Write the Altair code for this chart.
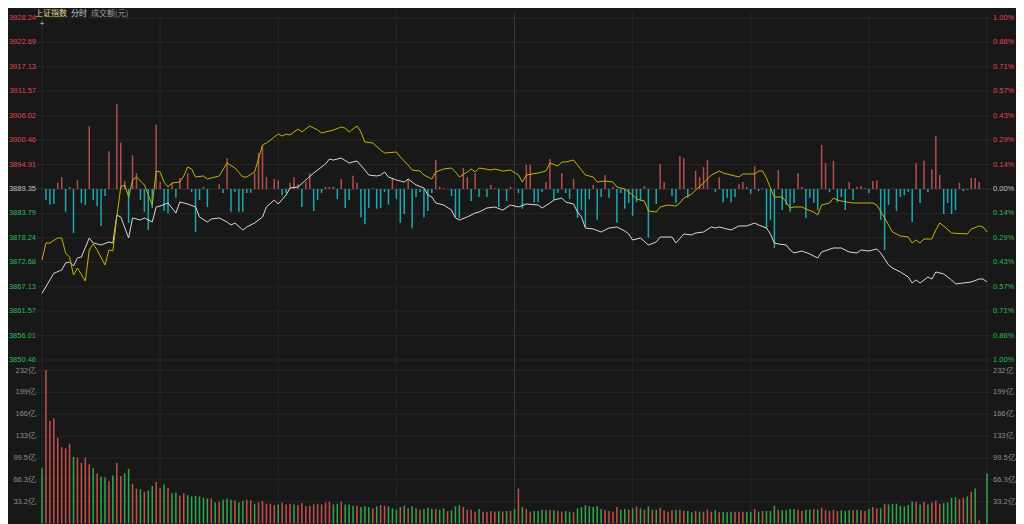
import altair as alt
import pandas as pd

BASE_PRICE = 3889.35
PRICE_TICKS = [3850.46, 3856.01, 3861.57, 3867.13, 3872.68, 3878.24, 3883.79, 3889.35,
               3894.91, 3900.46, 3906.02, 3911.57, 3917.13, 3922.69, 3928.24]
VOLUME_TICKS = [33.2, 66.3, 99.5, 132.6, 165.8, 198.9, 232.1]
TIME_GRID = [0, 30, 60, 90, 120, 150, 180, 210, 240]
HEADER = ["上证指数", "分时", "成交额(元)"]

# (minute, index value)
PRICE_LINE = [
    (0, 3865.63), (2, 3868.66), (3, 3870.18), (5, 3870.93), (6, 3872.52), (7, 3872.75), (8, 3871.84),
    (9, 3873.66), (10, 3873.89), (12, 3878.21), (13, 3877.07), (14, 3876.84), (15, 3876.62), (17, 3877.30),
    (18, 3877.07), (19, 3883.44), (20, 3882.98), (22, 3878.21), (23, 3882.76), (25, 3882.30), (26, 3882.76),
    (28, 3881.85), (29, 3885.26), (30, 3885.48), (32, 3886.17), (34, 3883.89), (35, 3886.39), (37, 3885.94),
    (39, 3885.26), (40, 3882.98), (42, 3881.85), (43, 3882.53), (45, 3882.76), (47, 3881.85), (48, 3881.16),
    (49, 3881.62), (51, 3880.03), (52, 3880.71), (54, 3881.62), (56, 3882.98), (57, 3885.26), (59, 3886.85),
    (60, 3885.94), (62, 3887.99), (63, 3889.58), (65, 3889.80), (67, 3891.40), (69, 3892.99), (70, 3893.67),
    (72, 3895.04), (73, 3896.17), (74, 3895.94), (76, 3896.40), (78, 3895.26), (80, 3895.72), (82, 3893.67),
    (83, 3892.53), (85, 3892.31), (86, 3892.53), (87, 3893.22), (88, 3892.08), (90, 3891.40), (92, 3890.94),
    (93, 3891.62), (95, 3890.26), (97, 3889.58), (98, 3887.99), (99, 3887.53), (100, 3886.17), (102, 3885.71),
    (104, 3884.57), (105, 3882.76), (106, 3882.30), (108, 3882.98), (110, 3883.89), (111, 3884.12),
    (113, 3885.03), (115, 3885.26), (117, 3884.57), (119, 3885.71), (121, 3885.26), (123, 3885.94),
    (126, 3885.71), (127, 3885.03), (129, 3886.17), (130, 3886.85), (132, 3887.30), (133, 3886.39),
    (135, 3885.94), (136, 3884.12), (137, 3882.98), (138, 3880.48), (140, 3880.25), (142, 3879.57),
    (144, 3880.48), (146, 3880.71), (148, 3879.80), (149, 3879.12), (150, 3877.75), (152, 3878.21),
    (154, 3876.62), (156, 3877.30), (157, 3878.43), (160, 3878.43), (161, 3877.07), (163, 3879.12),
    (165, 3878.89), (166, 3879.34), (168, 3879.57), (170, 3880.71), (171, 3880.48), (172, 3880.71),
    (174, 3880.25), (175, 3880.03), (177, 3880.94), (179, 3880.94), (181, 3881.62), (182, 3881.16),
    (184, 3880.48), (185, 3879.12), (186, 3877.07), (187, 3876.84), (189, 3876.62), (190, 3875.48),
    (191, 3874.80), (193, 3875.25), (195, 3874.57), (197, 3873.66), (198, 3875.02), (201, 3875.93),
    (203, 3875.93), (205, 3875.02), (207, 3874.80), (208, 3875.48), (210, 3875.25), (212, 3875.71),
    (213, 3874.80), (215, 3872.07), (216, 3871.39), (218, 3870.48), (220, 3869.34), (221, 3867.97),
    (222, 3868.66), (223, 3867.97), (225, 3869.34), (226, 3868.88), (227, 3870.48), (229, 3870.02),
    (231, 3868.66), (232, 3867.75), (234, 3867.97), (236, 3868.20), (238, 3868.88), (239, 3868.88),
    (240, 3868.20),
]

# (minute, value)
AVG_LINE = [
    (0, 3873.20), (1, 3877.07), (2, 3877.07), (4, 3878.21), (5, 3878.21), (6, 3874.80), (7, 3873.89),
    (8, 3869.79), (9, 3871.39), (11, 3868.43), (12, 3875.48), (13, 3876.84), (14, 3875.48), (16, 3872.07),
    (17, 3875.48), (18, 3875.25), (19, 3882.98), (20, 3889.80), (21, 3890.26), (22, 3887.53), (23, 3891.40),
    (24, 3892.08), (26, 3890.26), (28, 3885.71), (29, 3893.44), (30, 3893.22), (31, 3890.94), (32, 3889.80),
    (33, 3890.71), (35, 3890.94), (36, 3892.31), (37, 3894.35), (38, 3893.90), (39, 3892.08), (41, 3892.31),
    (42, 3891.62), (43, 3891.85), (45, 3892.31), (47, 3895.26), (49, 3894.13), (51, 3892.08), (52, 3892.08),
    (54, 3893.22), (56, 3899.35), (57, 3899.81), (60, 3901.86), (61, 3901.40), (62, 3901.86), (63, 3901.63),
    (65, 3902.99), (66, 3902.31), (68, 3903.68), (70, 3902.77), (71, 3902.08), (74, 3902.77), (76, 3903.45),
    (77, 3903.22), (78, 3902.31), (80, 3903.68), (81, 3902.31), (82, 3900.04), (84, 3899.81), (86, 3898.22),
    (87, 3897.54), (90, 3897.76), (91, 3896.63), (93, 3894.81), (94, 3893.67), (96, 3893.44), (97, 3892.53),
    (99, 3891.62), (100, 3893.22), (102, 3893.90), (104, 3894.13), (105, 3893.22), (106, 3892.08),
    (108, 3893.22), (109, 3893.90), (110, 3893.22), (111, 3894.13), (114, 3893.67), (115, 3893.90),
    (117, 3893.44), (119, 3893.67), (121, 3892.53), (122, 3890.94), (123, 3892.53), (126, 3892.99),
    (128, 3893.44), (129, 3895.26), (131, 3894.58), (132, 3895.49), (133, 3895.49), (135, 3895.94),
    (136, 3894.81), (138, 3892.53), (140, 3892.08), (141, 3890.94), (143, 3891.17), (145, 3890.94),
    (146, 3889.80), (148, 3889.35), (150, 3887.99), (151, 3887.08), (153, 3886.62), (154, 3884.35),
    (156, 3884.12), (157, 3885.26), (159, 3885.71), (161, 3885.48), (162, 3886.17), (163, 3887.30),
    (165, 3888.21), (166, 3889.12), (168, 3890.71), (170, 3892.53), (172, 3893.44), (173, 3892.99),
    (176, 3892.31), (177, 3892.08), (178, 3892.76), (181, 3892.76), (182, 3893.44), (183, 3893.44),
    (184, 3891.85), (185, 3889.58), (186, 3887.53), (188, 3887.53), (189, 3886.39), (190, 3885.03),
    (191, 3885.26), (193, 3885.26), (194, 3884.80), (196, 3884.12), (197, 3883.44), (198, 3885.71),
    (200, 3886.17), (201, 3887.30), (202, 3886.85), (203, 3886.62), (206, 3886.17), (208, 3886.17),
    (211, 3886.17), (212, 3885.71), (214, 3882.76), (215, 3881.16), (216, 3879.57), (218, 3878.66),
    (220, 3878.43), (221, 3877.07), (222, 3877.75), (223, 3877.07), (224, 3877.98), (226, 3877.98),
    (227, 3880.03), (228, 3881.62), (229, 3880.94), (231, 3879.34), (235, 3879.12), (236, 3880.25),
    (238, 3880.94), (239, 3880.71), (240, 3879.57),
]

# (minute, bar length in index points) for the red / cyan bars around the base line
STRENGTH = [
    (4, 1.4), (5, 2.7), (7, 0.5), (9, 2.0), (12, 14.3), (17, 8.6), (19, 19.3), (20, 10.5), (21, 1.8),
    (23, 7.7), (24, 3.6), (29, 14.6), (30, 1.6), (33, 1.4), (35, 2.5), (37, 3.6), (41, 0.5), (45, 1.1),
    (47, 7.0), (54, 3.6), (55, 8.2), (56, 9.8), (57, 2.7), (59, 2.3), (60, 2.0), (63, 1.4), (64, 2.7),
    (65, 1.1), (67, 1.6), (68, 3.6), (72, 0.5), (73, 0.5), (74, 0.5), (76, 2.3), (79, 3.0), (80, 1.4),
    (84, 0.2), (89, 2.5), (93, 2.3), (100, 6.6), (101, 0.5), (102, 0.2), (107, 4.8), (108, 2.7), (110, 3.6),
    (114, 0.9), (115, 0.2), (119, 0.5), (123, 5.5), (124, 5.5), (128, 1.6), (129, 6.8), (132, 3.6),
    (135, 2.3), (140, 0.9), (143, 3.2), (145, 0.5), (153, 0.7), (157, 5.7), (158, 1.6), (162, 7.5),
    (163, 7.0), (165, 0.2), (166, 4.1), (167, 2.7), (168, 5.0), (169, 6.6), (172, 2.7), (177, 1.1),
    (178, 1.6), (179, 0.5), (181, 5.2), (183, 0.2), (187, 4.3), (192, 3.6), (193, 0.5), (198, 10.0),
    (199, 5.9), (201, 6.4), (205, 1.6), (207, 0.5), (208, 0.7), (209, 0.2), (211, 1.8), (212, 2.0),
    (222, 5.9), (224, 6.4), (226, 4.5), (227, 12.1), (228, 3.2), (233, 1.4), (236, 2.5), (237, 2.5),
    (238, 1.6),
    (1, -2.5), (2, -3.6), (3, -3.4), (6, -5.2), (8, -10.0), (10, -3.2), (11, -3.6), (13, -2.5), (14, -3.9),
    (15, -8.4), (16, -1.6), (22, -7.7), (25, -2.5), (26, -5.2), (27, -9.3), (28, -4.3), (31, -5.0),
    (32, -5.5), (34, -2.0), (38, -0.7), (39, -9.8), (40, -2.5), (42, -4.1), (46, -0.9), (48, -5.2),
    (49, -0.7), (50, -5.2), (51, -5.2), (52, -0.9), (53, -0.9), (61, -1.4), (62, -0.9), (66, -4.1),
    (69, -5.0), (70, -2.5), (71, -0.9), (75, -2.3), (77, -4.3), (78, -2.5), (81, -6.4), (82, -8.0),
    (83, -4.3), (85, -4.5), (86, -4.3), (87, -0.7), (88, -3.6), (90, -2.3), (91, -7.7), (92, -5.7),
    (94, -8.9), (95, -1.8), (96, -0.7), (97, -6.4), (98, -5.0), (99, -0.9), (104, -1.6), (105, -6.4),
    (106, -6.6), (109, -2.7), (111, -1.8), (113, -1.8), (116, -4.1), (118, -2.7), (121, -0.9), (122, -4.5),
    (125, -3.0), (126, -3.0), (127, -0.7), (130, -2.5), (131, -0.9), (133, -0.9), (134, -2.3), (136, -6.6),
    (137, -4.8), (138, -8.6), (139, -2.3), (141, -7.0), (142, -1.8), (144, -2.0), (146, -7.7), (147, -0.9),
    (148, -4.5), (149, -3.2), (150, -6.1), (151, -3.0), (152, -2.7), (154, -11.1), (156, -3.4), (160, -1.6),
    (161, -3.2), (164, -2.0), (171, -0.7), (173, -3.0), (174, -2.0), (175, -3.0), (176, -1.8), (180, -1.1),
    (182, -0.5), (184, -8.9), (185, -7.0), (186, -13.4), (188, -4.8), (189, -3.6), (190, -5.2), (191, -3.2),
    (194, -6.6), (195, -2.0), (196, -3.2), (197, -4.8), (200, -0.7), (202, -3.0), (203, -1.8), (204, -4.8),
    (206, -2.5), (210, -0.9), (213, -7.0), (214, -13.9), (215, -3.6), (217, -5.0), (218, -1.8), (219, -1.4),
    (220, -0.7), (221, -7.5), (223, -3.2), (225, -0.7), (229, -5.7), (230, -3.2), (231, -5.7), (232, -4.8),
    (234, -0.5), (235, -0.2),
]

# turnover per minute (亿元), minute 0 .. 240
VOLUME = [
    84, 233, 156, 160, 130, 116, 114, 121, 101, 100,
    92, 100, 90, 84, 76, 71, 70, 64, 73, 92,
    72, 76, 83, 60, 53, 52, 48, 50, 57, 63,
    54, 59, 54, 46, 47, 42, 46, 43, 41, 42,
    41, 39, 38, 38, 32, 33, 36, 38, 36, 35,
    32, 34, 36, 35, 30, 32, 34, 30, 30, 28,
    29, 32, 29, 30, 29, 28, 31, 26, 27, 29,
    30, 29, 32, 33, 29, 30, 33, 29, 29, 27,
    27, 25, 26, 25, 23, 26, 28, 27, 26, 23,
    21, 25, 27, 23, 26, 23, 21, 22, 24, 22,
    22, 21, 23, 19, 20, 26, 28, 25, 21, 21,
    18, 22, 18, 18, 19, 18, 19, 18, 19, 19,
    22, 53, 25, 22, 18, 19, 19, 21, 20, 21,
    20, 19, 18, 19, 18, 17, 23, 25, 28, 26,
    25, 26, 22, 20, 19, 18, 25, 21, 22, 21,
    23, 26, 23, 21, 26, 21, 21, 24, 20, 18,
    20, 21, 21, 19, 19, 17, 19, 18, 18, 21,
    18, 20, 17, 18, 17, 18, 18, 18, 18, 18,
    18, 22, 18, 19, 19, 19, 27, 21, 20, 20,
    22, 22, 21, 19, 21, 21, 22, 21, 24, 20,
    19, 21, 19, 20, 19, 20, 20, 21, 20, 19,
    22, 25, 23, 23, 30, 29, 30, 30, 27, 26,
    28, 33, 33, 29, 33, 29, 32, 35, 30, 31,
    32, 39, 40, 37, 39, 41, 48, 53, 5, 0,
    76,
]
# r = up minute (red), g = down minute (green)
VOLUME_DIR = list(
    "grrrrrrrgr" "rrrgrggrgr" "rggrrgrggr" "rgrggrrggg" "gggrgrgggr"
    "ggrrgrrrrr" "grrrgrrrrr" "rrrrggrggg" "rgggrgrrgg" "grgrggrggg"
    "rggrgggrrr" "rgrrrrgrgr" "grgrrggggr" "grrggrgggg" "gggrrrrggr"
    "grgrgrgrrr" "rgrrggrgrr" "rgrgggrrrg" "grgrgggrgg" "ggrrggrgrr"
    "rrrgggrgrr" "grrgrggggg" "ggrgrgrrrg" "gggrrgrgrr" "g"
)

# ---------------- styles ----------------
BG = "#181818"
GRID = "#262626"
GRID_MID = "#383838"
GRID_BASE = "#333333"
RED_TXT = "#e2474c"
GREEN_TXT = "#2dbb55"
GRAY_TXT = "#c4c4c4"
VOL_TXT = "#8e8e8e"
WHITE_LINE = "#d9d9d9"
YELLOW_LINE = "#c2b400"
S_RED = "#b24f4e"
S_CYAN = "#1aa9b3"
V_RED = "#c4504c"
V_GREEN = "#2fa84c"
FONT = "Liberation Sans"
CJK = "Noto Sans CJK SC"
LABEL_SIZE = 7.5

PAD_L, PAD_T, PAD_R = 29, 5, 24
W = 1008 - PAD_L - PAD_R           # plot width
PH = 347                            # price panel height
GAP = 2.5
VH = 161                            # volume panel height
H = PH + GAP + VH
P_DOMAIN = [3850.46, 3929.38]
V_DOMAIN = [0, 244.3]

# ---------------- tables ----------------
price_df = pd.DataFrame(PRICE_LINE, columns=["m", "p"])
avg_df = pd.DataFrame(AVG_LINE, columns=["m", "p"])
str_df = pd.DataFrame(STRENGTH, columns=["m", "d"])
str_df["y0"] = BASE_PRICE
str_df["y1"] = BASE_PRICE + str_df["d"]
str_df["k"] = ["up" if d > 0 else "down" for d in str_df["d"]]
vol_df = pd.DataFrame({"m": list(range(len(VOLUME))), "v": VOLUME, "vk": VOLUME_DIR})

ptick_df = pd.DataFrame({"t": PRICE_TICKS})
ptick_df["left"] = [f"{t:.2f}" for t in PRICE_TICKS]
ptick_df["right"] = [f"{abs((t / BASE_PRICE - 1) * 100):.2f}%" for t in PRICE_TICKS]
ptick_df["s"] = ["up" if t > BASE_PRICE + 0.01 else ("down" if t < BASE_PRICE - 0.01 else "flat")
                 for t in PRICE_TICKS]
vtick_df = pd.DataFrame({"t": VOLUME_TICKS})
vtick_df["lab"] = [(f"{t:.1f}" if t < 100 else f"{t:.0f}") + "亿" for t in VOLUME_TICKS]
time_df = pd.DataFrame({"m": TIME_GRID})

xs = alt.Scale(domain=[0, 240], nice=False, zero=False)
ps = alt.Scale(domain=P_DOMAIN, range=[PH, 0], nice=False, zero=False)
vs = alt.Scale(domain=V_DOMAIN, range=[H, PH + GAP], nice=False, zero=False)

x_enc = alt.X("m:Q", scale=xs, axis=None)
label_colors = alt.Scale(domain=["up", "flat", "down"], range=[RED_TXT, GRAY_TXT, GREEN_TXT])

# grid lines
grid_price = alt.Chart(ptick_df).mark_rule(strokeWidth=1).encode(
    y=alt.Y("t:Q", scale=ps, axis=None), x=alt.value(0), x2=alt.value(W),
    color=alt.condition(f"abs(datum.t - {BASE_PRICE}) < 0.01", alt.value(GRID_BASE), alt.value(GRID)),
)
grid_vol = alt.Chart(vtick_df).mark_rule(strokeWidth=1, color=GRID).encode(
    y=alt.Y("t:Q", scale=vs, axis=None), x=alt.value(0), x2=alt.value(W),
)
grid_time = alt.Chart(time_df).mark_rule(strokeWidth=1).encode(
    x=x_enc, y=alt.value(0), y2=alt.value(H),
    color=alt.condition("datum.m == 120", alt.value(GRID_MID), alt.value(GRID)),
)

# data marks
strength_bars = alt.Chart(str_df).mark_bar(width=1.5).encode(
    x=x_enc,
    y=alt.Y("y0:Q", scale=ps, axis=None),
    y2="y1:Q",
    color=alt.Color("k:N", scale=alt.Scale(domain=["up", "down"], range=[S_RED, S_CYAN]), legend=None),
)
white_line = alt.Chart(price_df).mark_line(color=WHITE_LINE, strokeWidth=1).encode(
    x=x_enc, y=alt.Y("p:Q", scale=ps, axis=None)
)
yellow_line = alt.Chart(avg_df).mark_line(color=YELLOW_LINE, strokeWidth=1).encode(
    x=x_enc, y=alt.Y("p:Q", scale=ps, axis=None)
)
vol_bars = alt.Chart(vol_df).mark_bar(width=1.5).encode(
    x=x_enc,
    y=alt.Y("v:Q", scale=vs, axis=None),
    y2=alt.Y2(datum=0),
    color=alt.Color("vk:N", scale=alt.Scale(domain=["r", "g"], range=[V_RED, V_GREEN]), legend=None),
)

# axis labels
def side_labels(df, field, scale, dx, align, color):
    return alt.Chart(df).mark_text(
        align=align, baseline="middle", fontSize=LABEL_SIZE, font=FONT
    ).encode(
        y=alt.Y("t:Q", scale=scale, axis=None), x=alt.value(dx), text=f"{field}:N", color=color
    )


price_left = side_labels(ptick_df, "left", ps, -1, "right",
                         alt.Color("s:N", scale=label_colors, legend=None))
price_right = side_labels(ptick_df, "right", ps, W + 1, "left",
                          alt.Color("s:N", scale=label_colors, legend=None))
vol_left = side_labels(vtick_df, "lab", vs, -1, "right", alt.value(VOL_TXT))
vol_right = side_labels(vtick_df, "lab", vs, W + 1, "left", alt.value(VOL_TXT))


def header(i, dx, color):
    return alt.Chart(pd.DataFrame({"t": [HEADER[i]]})).mark_text(
        align="left", baseline="middle", fontSize=8, font=CJK, color=color
    ).encode(x=alt.value(dx), y=alt.value(1.2), text="t:N")


cursor = alt.Chart(pd.DataFrame({"t": ["+"]})).mark_text(
    align="center", baseline="middle", fontSize=8, font=FONT, color="#dddddd"
).encode(x=alt.value(5), y=alt.value(10.5), text="t:N")

chart = alt.layer(
    grid_price, grid_vol, grid_time,
    strength_bars, vol_bars, white_line, yellow_line,
    price_left, price_right, vol_left, vol_right,
    header(0, -2, "#e6d98f"), header(1, 34, "#cfcfcf"), header(2, 54, "#9c9c9c"), cursor,
).resolve_scale(y="independent", color="independent").properties(
    width=W, height=H,
    autosize=alt.AutoSizeParams(type="none"),
    padding={"left": PAD_L, "top": PAD_T, "right": PAD_R, "bottom": 0},
).configure(background=BG).configure_view(stroke=None)

chart.save("out.html", embed_options={"renderer": "svg", "actions": False})
